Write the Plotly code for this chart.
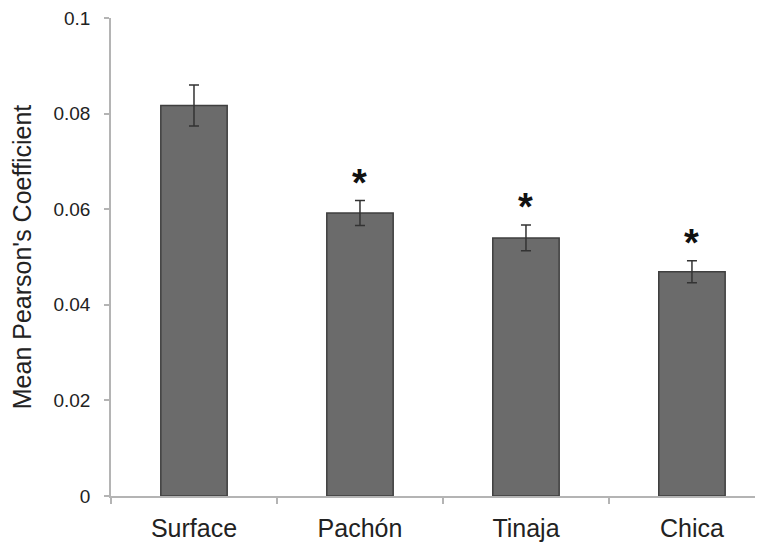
import plotly.graph_objects as go

categories = ["Surface", "Pachón", "Tinaja", "Chica"]
means = [0.0817, 0.0592, 0.0540, 0.0469]
errors = [0.0043, 0.0026, 0.0027, 0.0023]
significant = [False, True, True, True]
y_ticks = [0, 0.02, 0.04, 0.06, 0.08, 0.1]
y_tick_labels = ["0", "0.02", "0.04", "0.06", "0.08", "0.1"]

fig = go.Figure()
fig.add_trace(go.Bar(
    x=categories, y=means,
    width=0.4,
    marker=dict(color="#6b6b6b", line=dict(color="#3f3f3f", width=1.5)),
    error_y=dict(type="data", array=errors, visible=True,
                 color="#333333", thickness=1.5, width=5),
))

for c, m, e, s in zip(categories, means, errors, significant):
    if s:
        fig.add_annotation(x=c, y=m + e, text="<b>*</b>", showarrow=False,
                           yanchor="middle", yshift=18,
                           font=dict(size=38, color="#111111",
                                     family="Liberation Sans, Arial, sans-serif"))

fig.update_layout(
    width=763, height=547,
    margin=dict(l=103, r=7, t=10, b=59, autoexpand=False),
    plot_bgcolor="white", paper_bgcolor="white",
    showlegend=False,
    font=dict(family="Liberation Sans, Arial, sans-serif", color="#222222"),
    bargap=0.6,
)
fig.update_xaxes(
    type="category", range=[-0.5, 3.434],
    showline=True, linecolor="#b4b4b4", linewidth=1.5,
    ticks="outside", tickson="boundaries", ticklen=6, tickcolor="#b4b4b4", tickwidth=1.5,
    tickfont=dict(size=25, color="#222222"),
    ticklabelstandoff=9, ticklabeloverflow="allow",
    showgrid=False, zeroline=False, automargin=False,
)
fig.update_yaxes(
    range=[0, 0.1], tickvals=y_ticks, ticktext=y_tick_labels,
    showline=True, linecolor="#b4b4b4", linewidth=1.5,
    ticks="outside", ticklen=5, tickcolor="#b4b4b4", tickwidth=1.5,
    tickfont=dict(size=19, color="#222222"),
    ticklabelstandoff=10, ticklabeloverflow="allow",
    showgrid=False, zeroline=False, automargin=False,
    title=dict(text="Mean Pearson's Coefficient", font=dict(size=25, color="#222222"), standoff=17),
)

fig.write_html("out.html")
